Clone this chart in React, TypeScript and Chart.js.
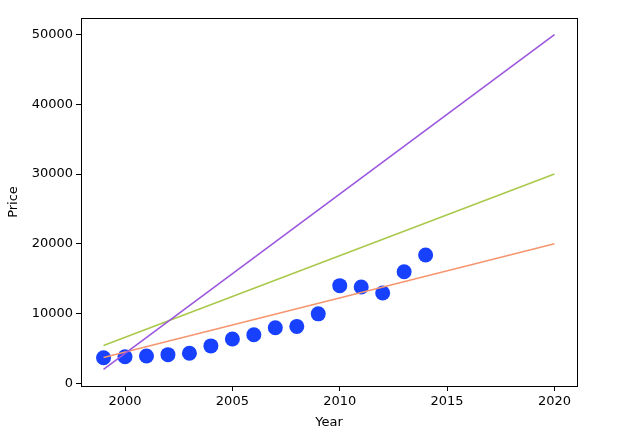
import React, { useEffect, useRef } from "react";
import { Chart, registerables } from "chart.js";

Chart.register(...registerables);

const years = [1999, 2000, 2001, 2002, 2003, 2004, 2005, 2006, 2007, 2008, 2009, 2010, 2011, 2012, 2013, 2014];
const prices = [3650, 3800, 3900, 4100, 4300, 5350, 6350, 6950, 7950, 8150, 9950, 14000, 13800, 12950, 16000, 18400];

const lineYears = [1999, 2020];
const purpleLine = [2000, 50000];
const greenLine = [5400, 30000];
const orangeLine = [3700, 20000];

const xTicks = [2000, 2005, 2010, 2015, 2020];
const yTicks = [0, 10000, 20000, 30000, 40000, 50000];

const FONT = "'DejaVu Sans', sans-serif";

const framePlugin = {
  id: "frame",
  afterDatasetsDraw(chart: any) {
    const { ctx, chartArea } = chart;
    ctx.save();
    ctx.strokeStyle = "#000";
    ctx.lineWidth = 1;
    ctx.strokeRect(
      Math.round(chartArea.left) + 0.5,
      Math.round(chartArea.top) + 0.5,
      Math.round(chartArea.right - chartArea.left),
      Math.round(chartArea.bottom - chartArea.top)
    );
    ctx.restore();
  },
};

export default function App() {
  const ref = useRef<HTMLCanvasElement>(null);
  useEffect(() => {
    const toPts = (xs: number[], ys: number[]) => xs.map((x, i) => ({ x, y: ys[i] }));
    const lineDs = (data: number[], color: string) => ({
      type: "line" as const,
      data: toPts(lineYears, data),
      borderColor: color,
      backgroundColor: color,
      borderWidth: 1.6,
      pointRadius: 0,
      fill: false,
      order: 0,
    });
    const chart = new Chart(ref.current!, {
      type: "scatter",
      data: {
        datasets: [
          {
            type: "scatter",
            data: toPts(years, prices),
            backgroundColor: "#1740ff",
            borderColor: "#1740ff",
            borderWidth: 0,
            pointRadius: 7.5,
            order: 10,
          } as any,
          lineDs(purpleLine, "#9b57de"),
          lineDs(greenLine, "#a9c94c"),
          lineDs(orangeLine, "#f5966f"),
        ],
      },
      options: {
        animation: false,
        responsive: false,
        maintainAspectRatio: false,
        layout: { padding: { left: 0, right: 47, top: 18, bottom: 0 } },
        plugins: { legend: { display: false }, tooltip: { enabled: false } },
        scales: {
          x: {
            type: "linear",
            min: 1997.95,
            max: 2021.05,
            afterBuildTicks: (s: any) => {
              s.ticks = xTicks.map((v) => ({ value: v }));
            },
            afterFit: (s: any) => {
              s.height = 51;
            },
            grid: { drawOnChartArea: false, drawTicks: true, tickLength: 5, color: "#000" },
            border: { display: true, color: "#000" },
            ticks: { color: "#000", font: { family: FONT, size: 13 }, padding: 3, maxRotation: 0, callback: (v: any) => String(v) },
            title: { display: true, text: "Year", color: "#000", font: { family: FONT, size: 13 }, padding: { top: 2, bottom: 7 } },
          },
          y: {
            type: "linear",
            min: -400,
            max: 52400,
            afterBuildTicks: (s: any) => {
              s.ticks = yTicks.map((v) => ({ value: v }));
            },
            afterFit: (s: any) => {
              s.width = 81;
            },
            grid: { drawOnChartArea: false, drawTicks: true, tickLength: 5, color: "#000" },
            border: { display: true, color: "#000" },
            ticks: { color: "#000", font: { family: FONT, size: 13 }, padding: 3, callback: (v: any) => String(v) },
            title: { display: true, text: "Price", color: "#000", font: { family: FONT, size: 13 }, padding: { top: 6, bottom: 4 } },
          },
        },
      },
      plugins: [framePlugin],
    });
    return () => chart.destroy();
  }, []);
  return (
    <div style={{ position: "fixed", left: 0, top: 0, width: 624, height: 437, background: "#fff" }}>
      <canvas ref={ref} width={624} height={437} style={{ width: 624, height: 437, display: "block" }} />
    </div>
  );
}
